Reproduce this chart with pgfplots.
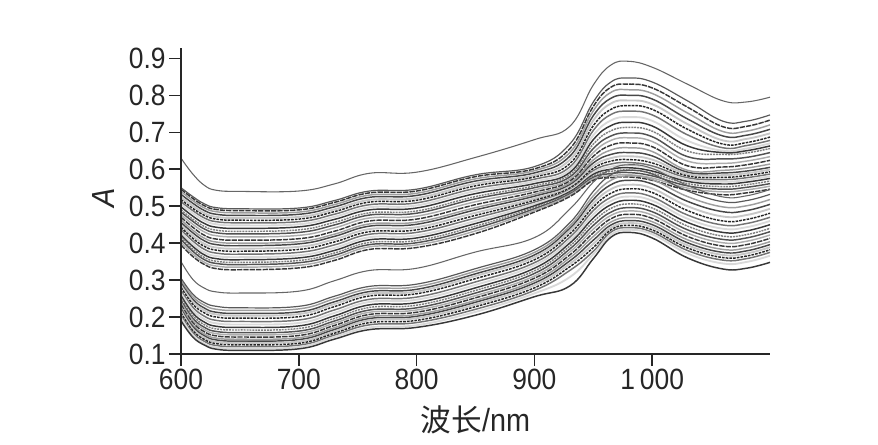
\documentclass[border=0pt]{standalone}
\usepackage{fontspec}
\usepackage{pgfplots}
\usepackage{pgfplotstable}
\pgfplotsset{compat=1.18}
\setmainfont[FakeStretch=0.9]{Liberation Sans}
\newfontfamily\cjk{Noto Sans CJK SC}

% one row per wavelength, then absorbance of each sample (upper bundle, lower bundle)
\pgfplotstableread[header=false]{
600 .630 .550 .546 .540 .532 .525 .518 .512 .505 .498 .490 .484 .477 .470 .463 .456 .449 .443 .436 .429 .422 .415 .410 .403 .395 .350 .305 .298 .292 .286 .280 .272 .265 .258 .252 .245 .240 .234 .228 .222 .217 .211 .205 .198 .190
610 .587 .526 .521 .515 .508 .501 .494 .488 .481 .473 .465 .459 .451 .443 .435 .428 .420 .413 .406 .398 .391 .384 .378 .371 .364 .302 .262 .255 .248 .242 .235 .227 .219 .211 .204 .197 .191 .185 .179 .174 .168 .163 .158 .152 .146
620 .556 .506 .501 .495 .488 .481 .475 .468 .461 .453 .445 .438 .430 .421 .413 .406 .398 .391 .383 .375 .368 .361 .355 .348 .342 .278 .239 .232 .224 .218 .211 .202 .194 .186 .179 .172 .166 .160 .154 .149 .144 .139 .134 .128 .124
630 .543 .496 .491 .485 .478 .471 .465 .458 .451 .443 .435 .428 .420 .411 .403 .396 .388 .381 .373 .365 .358 .351 .345 .338 .331 .268 .229 .221 .213 .207 .200 .191 .183 .175 .168 .161 .155 .149 .143 .138 .133 .128 .123 .118 .113
650 .540 .493 .488 .482 .475 .468 .462 .455 .448 .440 .432 .425 .417 .408 .400 .393 .385 .378 .370 .362 .355 .348 .342 .335 .328 .265 .225 .218 .210 .204 .197 .188 .180 .172 .165 .158 .152 .146 .140 .135 .130 .125 .120 .115 .110
700 .541 .495 .490 .484 .478 .471 .465 .458 .451 .444 .436 .429 .421 .412 .404 .398 .390 .383 .375 .367 .360 .353 .347 .340 .333 .270 .229 .222 .214 .208 .201 .192 .184 .176 .169 .162 .156 .150 .144 .139 .134 .129 .124 .119 .114
730 .560 .515 .510 .504 .498 .491 .485 .478 .471 .464 .456 .449 .441 .432 .424 .418 .410 .403 .395 .387 .380 .373 .367 .360 .353 .298 .256 .249 .241 .235 .228 .219 .211 .203 .196 .189 .183 .177 .171 .166 .161 .156 .151 .146 .140
760 .589 .541 .536 .530 .524 .517 .511 .504 .497 .490 .482 .476 .468 .460 .452 .446 .438 .431 .424 .416 .409 .402 .396 .390 .383 .326 .283 .276 .269 .263 .257 .248 .241 .233 .226 .219 .213 .207 .201 .196 .191 .185 .179 .172 .166
800 .592 .546 .541 .535 .529 .522 .516 .509 .502 .495 .487 .481 .473 .465 .457 .451 .443 .436 .429 .421 .414 .407 .401 .395 .388 .332 .289 .282 .275 .269 .263 .254 .247 .239 .232 .225 .219 .213 .207 .202 .197 .191 .185 .178 .172
850 .632 .585 .580 .574 .568 .561 .555 .548 .541 .534 .526 .520 .512 .504 .496 .490 .482 .475 .468 .460 .453 .446 .440 .433 .426 .376 .331 .324 .317 .311 .304 .295 .287 .279 .272 .265 .258 .252 .245 .240 .234 .228 .221 .214 .205
900 .680 .607 .601 .596 .590 .584 .579 .573 .567 .561 .555 .550 .544 .538 .532 .527 .521 .516 .511 .506 .501 .497 .493 .489 .484 .415 .382 .375 .368 .362 .355 .347 .340 .332 .325 .318 .311 .305 .298 .292 .286 .279 .272 .264 .255
930 .716 .668 .655 .645 .635 .625 .615 .606 .598 .591 .585 .579 .573 .568 .563 .558 .553 .549 .545 .542 .539 .536 .533 .530 .526 .492 .455 .447 .440 .433 .425 .416 .408 .400 .392 .384 .376 .368 .360 .352 .344 .336 .326 .308 .284
950 .828 .782 .770 .758 .745 .732 .718 .705 .692 .680 .668 .656 .645 .635 .625 .617 .609 .602 .596 .591 .586 .582 .578 .574 .570 .565 .540 .528 .518 .508 .498 .488 .478 .468 .458 .448 .438 .428 .418 .408 .398 .388 .378 .370 .358
965 .882 .836 .822 .808 .792 .778 .762 .748 .732 .718 .704 .690 .678 .665 .652 .640 .630 .622 .614 .607 .600 .594 .588 .582 .577 .600 .585 .570 .558 .546 .535 .524 .514 .504 .494 .484 .475 .466 .457 .449 .442 .436 .430 .423 .416
980 .892 .847 .830 .815 .800 .786 .772 .757 .741 .727 .713 .698 .685 .671 .658 .645 .635 .626 .618 .611 .604 .598 .591 .585 .579 .612 .597 .582 .570 .558 .547 .536 .526 .516 .506 .496 .487 .478 .469 .461 .454 .448 .442 .436 .429
1000 .876 .836 .820 .805 .790 .776 .762 .747 .731 .717 .703 .688 .675 .661 .648 .636 .626 .617 .609 .602 .595 .589 .582 .576 .570 .602 .587 .572 .560 .548 .537 .525 .515 .505 .495 .485 .476 .467 .458 .450 .443 .436 .430 .424 .414
1030 .830 .785 .768 .752 .736 .722 .708 .693 .677 .663 .649 .634 .622 .609 .597 .592 .587 .582 .577 .572 .567 .561 .555 .549 .543 .556 .541 .526 .513 .500 .488 .476 .466 .456 .446 .436 .427 .418 .409 .401 .394 .387 .380 .372 .360
1060 .785 .730 .715 .702 .690 .678 .668 .658 .650 .645 .640 .628 .616 .606 .597 .590 .584 .578 .572 .566 .560 .553 .546 .539 .531 .525 .512 .498 .485 .472 .460 .449 .439 .429 .419 .410 .401 .392 .383 .375 .368 .361 .354 .345 .330
1080 .782 .730 .716 .703 .692 .682 .672 .664 .656 .650 .644 .632 .622 .612 .603 .595 .589 .583 .577 .571 .565 .558 .551 .544 .536 .528 .515 .501 .488 .476 .464 .453 .443 .433 .423 .414 .405 .396 .387 .379 .372 .365 .358 .349 .332
1100 .795 .747 .733 .720 .708 .697 .687 .678 .670 .663 .656 .645 .634 .624 .614 .605 .599 .593 .587 .581 .575 .568 .561 .554 .546 .545 .532 .518 .505 .493 .481 .470 .460 .450 .440 .431 .422 .413 .404 .396 .389 .382 .375 .366 .348
}\spectra

\begin{document}
\begin{tikzpicture}
  % page is 878x444 px at 0.75pt per px
  \useasboundingbox (0,0) rectangle (658.5pt,333pt);
  \begin{axis}[
    scale only axis,
    width=441.75pt, height=229.5pt,
    at={(135.75pt,67.5pt)}, anchor=south west,
    xmin=600, xmax=1100, ymin=0.1, ymax=0.928,
    axis x line=bottom, axis y line=left,
    axis line style={-, line width=1.1pt, black!85},
    xtick={600,700,800,900,1000},
    xticklabels={600,700,800,900,1\,000},
    ytick={0.1,0.2,0.3,0.4,0.5,0.6,0.7,0.8,0.9},
    yticklabel style={/pgf/number format/fixed, /pgf/number format/fixed zerofill, /pgf/number format/precision=1, /pgf/number format/assume math mode=true},
    tick align=outside, major tick length=9pt,
    tick style={line width=1.1pt, black!85},
    tick label style={font=\fontsize{22}{24}\selectfont, black!85},
    xticklabel style={yshift=1pt},
    yticklabel style={xshift=1pt},
    xlabel={{\cjk\fontsize{23}{26}\selectfont 波长}/nm},
    ylabel={\textit{A}},
    label style={font=\fontsize{24}{26}\selectfont, black!85},
    xlabel style={at={(axis description cs:0.5,0)}, anchor=north, yshift=-35pt},
    ylabel style={at={(axis description cs:0,0.51)}, anchor=center, yshift=58pt},
    cycle list={
      {black!78, dash pattern=on 4pt off 0.8pt},
      {black!38},
      {black!72},
      {black!22, line width=1.4pt},
      {black!85, dash pattern=on 2pt off 0.8pt},
      {black!55},
      {black!15, line width=1.4pt},
      {black!78},
      {black!50, dash pattern=on 1.5pt off 0.7pt},
      {black!68},
      {black!32}},
    every axis plot/.append style={line width=1.1pt, smooth, tension=0.7, no markers},
    axis on top,
  ]
    \pgfplotsinvokeforeach{3,...,25}{
      \addplot table[x index=0, y index=#1] {\spectra};
    }
    \pgfplotsinvokeforeach{28,...,45}{
      \addplot table[x index=0, y index=#1] {\spectra};
    }
    % the outer curves stand alone and stay plain
    \addplot[black!60, line width=0.8pt] table[x index=0, y index=1] {\spectra};
    \addplot[black!65, line width=0.9pt] table[x index=0, y index=2] {\spectra};
    \addplot[black!60, line width=0.8pt] table[x index=0, y index=26] {\spectra};
    \addplot[black!65, line width=0.9pt] table[x index=0, y index=27] {\spectra};
  \end{axis}
\end{tikzpicture}
\end{document}
